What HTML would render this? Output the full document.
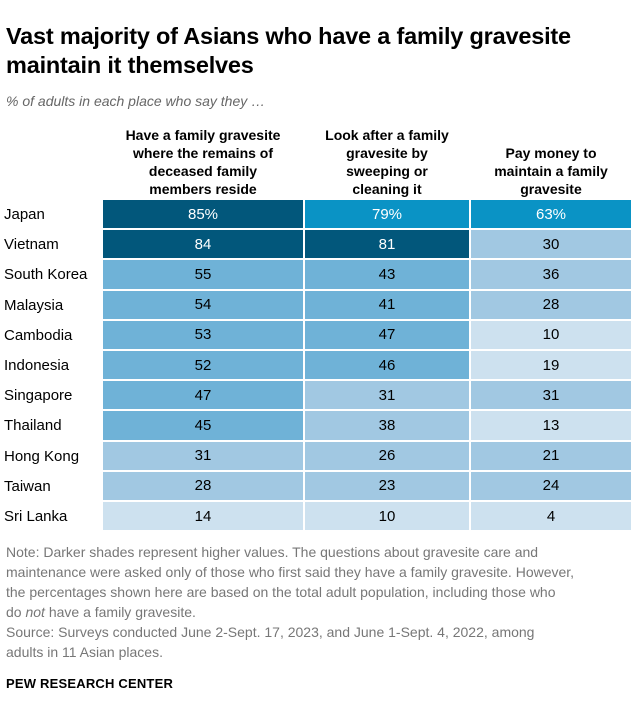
<!DOCTYPE html>
<html><head><meta charset="utf-8"><style>
body{margin:0;width:640px;height:719px;background:#fff;font-family:"Liberation Sans",sans-serif;color:#000;position:relative;overflow:hidden}
#title{position:absolute;left:6px;top:22px;font-size:23.5px;font-weight:bold;line-height:29px;letter-spacing:-0.2px}
#sub{position:absolute;left:6px;top:93px;font-size:14px;font-style:italic;color:#666}
.hdr{position:absolute;top:124px;font-size:14px;font-weight:bold;text-align:center;line-height:18px;height:74px;display:flex;align-items:flex-end;justify-content:center}
.lbl{position:absolute;left:4px;font-size:15px;}
.cell{position:absolute;font-size:15px;display:flex;align-items:center;justify-content:center}
#note{position:absolute;left:6px;top:542px;font-size:14px;color:#777;line-height:20px;white-space:nowrap}
#src{position:absolute;left:6px;top:622px;font-size:14px;color:#777;line-height:20px;white-space:nowrap}
#pew{position:absolute;left:6px;top:676px;font-size:13px;font-weight:bold;letter-spacing:0.2px}
</style></head><body>
<div id="title">Vast majority of Asians who have a family gravesite<br>maintain it themselves</div>
<div id="sub">% of adults in each place who say they …</div>
<div id="grid"></div>
<div id="note">Note: Darker shades represent higher values. The questions about gravesite care and<br>maintenance were asked only of those who first said they have a family gravesite. However,<br>the percentages shown here are based on the total adult population, including those who<br>do <i>not</i> have a family gravesite.</div>
<div id="src">Source: Surveys conducted June 2-Sept. 17, 2023, and June 1-Sept. 4, 2022, among<br>adults in 11 Asian places.</div>
<div id="pew">PEW RESEARCH CENTER</div>
<script>
const places=["Japan","Vietnam","South Korea","Malaysia","Cambodia","Indonesia","Singapore","Thailand","Hong Kong","Taiwan","Sri Lanka"];
const headers=["Have a family gravesite<br>where the remains of<br>deceased family<br>members reside","Look after a family<br>gravesite by<br>sweeping or<br>cleaning it","Pay money to<br>maintain a family<br>gravesite"];
const haveGrave=[85,84,55,54,53,52,47,45,31,28,14];
const lookAfter=[79,81,43,41,47,46,31,38,26,23,10];
const payMoney=[63,30,36,28,10,19,31,13,21,24,4];
const series=[haveGrave,lookAfter,payMoney];
const colX=[102,304,470,632];
const top0=199,rowH=30.2;
function color(v){if(v>=80)return"#02577b";if(v>=60)return"#0a93c5";if(v>=40)return"#6fb2d7";if(v>=20)return"#a1c8e2";return"#cde1ef";}
const g=document.getElementById('grid');
headers.forEach((h,j)=>{const d=document.createElement('div');d.className='hdr';


d.style.left=colX[j]+'px';d.style.width=(colX[j+1]-colX[j])+'px';d.innerHTML='<span>'+h+'</span>';g.appendChild(d);});
places.forEach((p,i)=>{const y=top0+i*rowH;
const l=document.createElement('div');l.className='lbl';


l.style.top=(y+7)+'px';l.textContent=p;g.appendChild(l);
series.forEach((s,j)=>{const v=s[i];const c=document.createElement('div');c.className='cell';


c.style.left=(colX[j]+1)+'px';c.style.width=(colX[j+1]-colX[j]-2)+'px';c.style.top=(y+1)+'px';c.style.height=(rowH-2)+'px';
c.style.background=color(v);c.style.color=v>=60?'#fff':'#000';c.textContent=v+(i===0?'%':'');g.appendChild(c);});});
</script>
</body></html>
